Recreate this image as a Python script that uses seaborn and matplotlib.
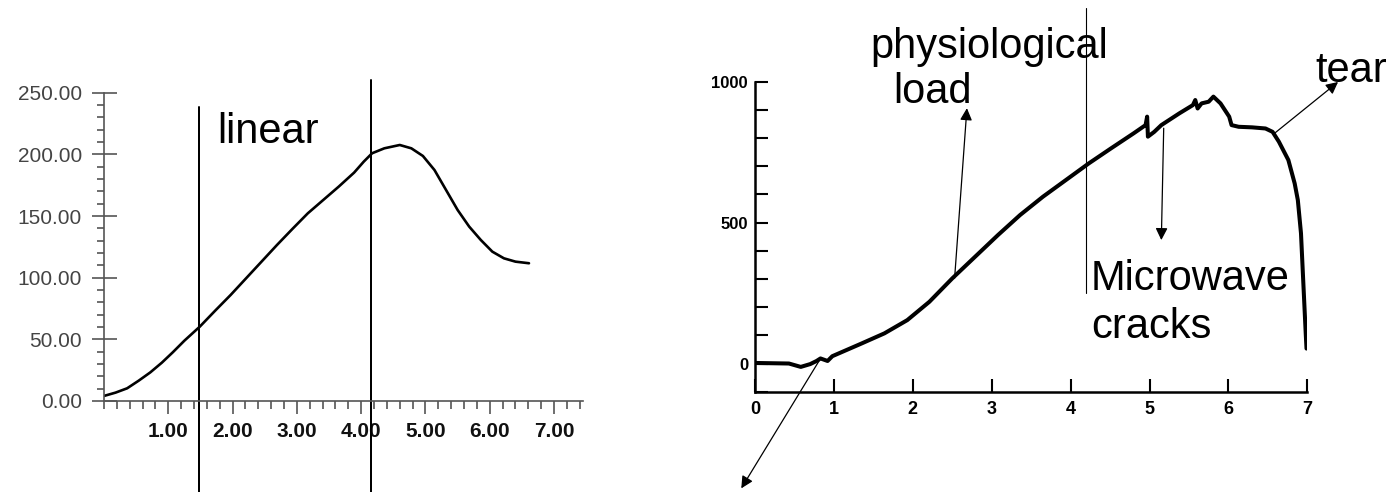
import matplotlib
matplotlib.use("Agg")
import matplotlib.pyplot as plt
from matplotlib.ticker import MultipleLocator, FixedLocator, FormatStrFormatter
import pandas as pd
import seaborn as sns

# ---------------- data: left panel ----------------
left_x = [0.00, 0.18, 0.36, 0.54, 0.72, 0.90, 1.07, 1.25, 1.49, 1.73, 1.97, 2.21,
          2.45, 2.69, 2.93, 3.17, 3.41, 3.65, 3.89, 4.04, 4.17, 4.36, 4.60, 4.78,
          4.96, 5.14, 5.32, 5.50, 5.68, 5.86, 6.04, 6.22, 6.40, 6.61]
left_y = [4.1, 6.8, 10.3, 16.5, 23.2, 31.1, 39.5, 48.9, 60.3, 73.3, 86.0, 99.5,
          113.0, 126.5, 139.5, 152.2, 163.0, 173.8, 185.2, 194.1, 200.9, 204.9, 207.6, 204.9,
          198.7, 187.3, 171.1, 154.9, 141.4, 130.6, 121.1, 115.7, 113.0, 111.7]
left_yticks = [0, 50, 100, 150, 200, 250]
left_xticks = [1, 2, 3, 4, 5, 6, 7]
left_vlines = [1.48, 4.15]

# ---------------- data: right panel ----------------
right_x = [0.00, 0.43, 0.58, 0.70, 0.78, 0.83, 0.92, 0.98, 1.35, 1.64, 1.93, 2.21,
           2.50, 2.79, 3.08, 3.36, 3.65, 3.94, 4.23, 4.51, 4.80, 4.95, 4.97, 4.98,
           5.06, 5.15, 5.38, 5.55, 5.58, 5.61, 5.66, 5.75, 5.81, 5.90, 6.01, 6.04,
           6.13, 6.30, 6.47, 6.56, 6.64, 6.76, 6.84, 6.88, 6.92, 6.94, 6.96, 6.98, 6.99]
right_y = [2, 0, -12, -2, 9, 18, 9, 26, 71, 107, 154, 219,
           302, 379, 456, 527, 592, 651, 710, 763, 817, 846, 876, 805,
           822, 846, 888, 917, 935, 905, 923, 929, 947, 923, 876, 846,
           840, 838, 834, 822, 787, 722, 639, 580, 462, 343, 225, 107, 53]
right_xticks = [0, 1, 2, 3, 4, 5, 6, 7]
right_yticks = [0, 500, 1000]
right_vline = 4.20

sns.set_style("white")
plt.rcParams["font.family"] = ["Liberation Sans", "DejaVu Sans"]
plt.rcParams["text.color"] = "black"

W, H = 1388, 492
fig = plt.figure(figsize=(W / 100, H / 100), dpi=100)
axL = fig.add_axes([104 / W, 91 / H, 479 / W, 308.3 / H])
axR = fig.add_axes([755 / W, 100.3 / H, 552.3 / W, 310 / H])

# ---------------- left panel ----------------
dfL = pd.DataFrame({"x": left_x, "y": left_y})
sns.lineplot(data=dfL, x="x", y="y", ax=axL, color="black", lw=1.9,
             estimator=None, sort=False)
axL.set_xlim(0, 7.45)
axL.set_ylim(0, 250)
axL.set_xlabel("")
axL.set_ylabel("")
for s in ["top", "right"]:
    axL.spines[s].set_visible(False)
for s in ["left", "bottom"]:
    axL.spines[s].set_color("#555555")
    axL.spines[s].set_linewidth(1.2)
axL.yaxis.set_major_locator(FixedLocator(left_yticks))
axL.yaxis.set_major_formatter(FormatStrFormatter("%.2f"))
axL.yaxis.set_minor_locator(MultipleLocator(10))
axL.xaxis.set_major_locator(FixedLocator(left_xticks))
axL.xaxis.set_major_formatter(FormatStrFormatter("%.2f"))
axL.xaxis.set_minor_locator(MultipleLocator(0.2))
axL.tick_params(which="both", left=True, bottom=True, top=False, right=False)
axL.tick_params(axis="y", which="major", direction="inout", length=18, width=1.2,
                color="#555555", labelsize=15, labelcolor="#444444", pad=6.8)
axL.tick_params(axis="y", which="minor", direction="out", length=5, width=1.2,
                color="#555555")
axL.tick_params(axis="x", which="major", direction="out", length=9.4, width=1.2,
                color="#555555", labelsize=15, labelcolor="#111111", pad=6)
axL.tick_params(axis="x", which="minor", direction="out", length=5.8, width=1.2,
                color="#555555")
for lab in axL.get_xticklabels():
    lab.set_fontweight("bold")
axL.plot([left_vlines[0]] * 2, [238, -74], color="black", lw=1.44, clip_on=False)
axL.plot([left_vlines[1]] * 2, [260, -74], color="black", lw=1.44, clip_on=False)
axL.text(1.757, 209, "linear", fontsize=30, ha="left", va="baseline", color="black")

# ---------------- right panel ----------------
dfR = pd.DataFrame({"x": right_x, "y": right_y})
sns.lineplot(data=dfR, x="x", y="y", ax=axR, color="black", lw=2.9,
             estimator=None, sort=False)
axR.set_xlim(0, 7)
axR.set_ylim(-100, 1000)
axR.set_xlabel("")
axR.set_ylabel("")
for s in ["top", "right"]:
    axR.spines[s].set_visible(False)
for s in ["left", "bottom"]:
    axR.spines[s].set_color("black")
    axR.spines[s].set_linewidth(1.8)
axR.xaxis.set_major_locator(FixedLocator(right_xticks))
axR.yaxis.set_major_locator(FixedLocator(right_yticks))
axR.yaxis.set_minor_locator(MultipleLocator(100))
axR.tick_params(which="both", left=True, bottom=True, top=False, right=False)
axR.tick_params(axis="both", which="both", direction="in", length=9.4, width=1.5,
                color="black", labelcolor="black")
axR.tick_params(axis="y", which="major", labelsize=12, pad=5)
axR.tick_params(axis="x", which="major", labelsize=13, pad=7)
for lab in axR.get_xticklabels() + axR.get_yticklabels():
    lab.set_fontweight("bold")

axR.plot([right_vline] * 2, [1261, 250], color="black", lw=0.8, clip_on=False)

txt_kw = dict(fontsize=30, ha="left", va="baseline", color="black")
axR.text(1.465, 1084, "physiological", **txt_kw)
axR.text(1.749, 924, "load", **txt_kw)
axR.text(4.256, 260, "Microwave", **txt_kw)
axR.text(4.256, 90, "cracks", **txt_kw)
axR.text(7.104, 998, "tear", **txt_kw)

arrow_kw = dict(arrowstyle="-|>", color="black", lw=0.9, mutation_scale=18,
                shrinkA=0, shrinkB=0)
arrows = [((2.686, 906), (2.53, 303)),
          ((5.15, 438), (5.18, 835)),
          ((7.39, 999), (6.585, 817)),
          ((-0.174, -443), (0.833, 19))]
for head, tail in arrows:
    axR.annotate("", xy=head, xytext=tail, arrowprops=arrow_kw,
                 annotation_clip=False)

fig.savefig("out.png", dpi=100)
